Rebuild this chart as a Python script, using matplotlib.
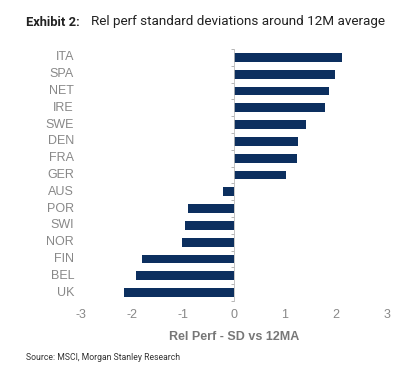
import matplotlib
matplotlib.use("Agg")
import matplotlib.pyplot as plt
import numpy as np

# Relative performance, standard deviations vs 12M moving average
countries = ['ITA', 'SPA', 'NET', 'IRE', 'SWE', 'DEN', 'FRA', 'GER',
             'AUS', 'POR', 'SWI', 'NOR', 'FIN', 'BEL', 'UK']
rel_perf_sd = [2.12, 1.99, 1.87, 1.79, 1.41, 1.25, 1.24, 1.01,
               -0.22, -0.90, -0.96, -1.01, -1.80, -1.92, -2.16]
xticks = [-3, -2, -1, 0, 1, 2, 3]

plt.rcParams['font.family'] = ['Roboto', 'DejaVu Sans']
axis_font = ['Liberation Sans', 'DejaVu Sans']

W, H = 399, 374
fig = plt.figure(figsize=(W / 100, H / 100), dpi=100)
ax = fig.add_axes([81 / W, 1 - 301 / H, 306 / W, 252 / H])

ypos = np.arange(len(countries))[::-1]
ax.barh(ypos, rel_perf_sd, height=0.52, color='#0c2f5f', zorder=2)

ax.set_xlim(-3, 3)
ax.set_ylim(-0.5, len(countries) - 0.5)
ax.set_xticks(xticks)
ax.set_xticklabels([str(t) for t in xticks], family=axis_font)
ax.tick_params(axis='x', length=0, colors='#888888', labelsize=9, pad=6)

# spine ticks sit at the category boundaries, names drawn as figure text
ax.set_yticks(np.arange(-0.5, len(countries), 1.0))
ax.set_yticklabels([])
ax.tick_params(axis='y', length=2.5, width=0.6, color='#aaaaaa', direction='out')
for y, name in zip(ypos, countries):
    fig.text(74 / W, 1 - (49 + (len(countries) - 1 - y + 0.5) * 16.8) / H, name,
             ha='right', va='center', fontsize=9, color='#888888', family=axis_font)

for side in ['top', 'right', 'bottom']:
    ax.spines[side].set_visible(False)
ax.spines['left'].set_position(('data', 0))
ax.spines['left'].set_color('#bbbbbb')
ax.spines['left'].set_linewidth(0.6)
ax.spines['left'].set_zorder(3)

ax.set_xlabel('Rel Perf - SD vs 12MA', fontsize=9, fontweight='bold',
              color='#777777', labelpad=7, family=axis_font)

fig.text(26 / W, 1 - 22 / H, 'Exhibit 2:', fontsize=9.3, fontweight='bold',
         color='#222222', va='center', ha='left')
fig.text(91 / W, 1 - 22 / H, 'Rel perf standard deviations around 12M average',
         fontsize=9.7, color='#222222', va='center', ha='left')
fig.text(26 / W, 1 - 357 / H, 'Source: MSCI, Morgan Stanley Research',
         fontsize=6.2, color='#333333', va='center', ha='left')

fig.savefig('out.png', dpi=100, facecolor='white')
